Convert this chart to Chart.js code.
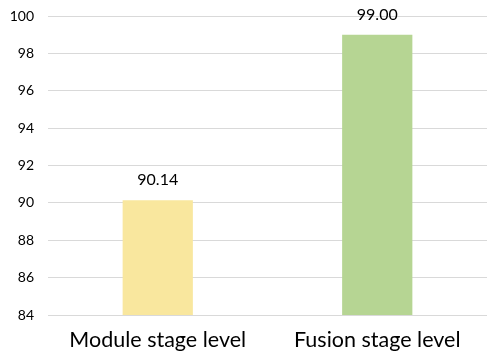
<!DOCTYPE html>
<html>
<head>
<meta charset="utf-8">
<script src="https://cdn.jsdelivr.net/npm/chart.js@4"></script>
<style>
  html, body { margin: 0; padding: 0; background: #fff; }
  #wrap { width: 487px; height: 356px; }
</style>
</head>
<body>
<div id="wrap"><canvas id="chart"></canvas></div>
<script>
var categories = ['Module stage level', 'Fusion stage level'];
var values = [90.14, 99.00];
var barColors = ['#F9E79E', '#B6D593'];
var yTicks = [84, 86, 88, 90, 92, 94, 96, 98, 100];

// draw the value above each bar
var valueLabels = {
    id: 'valueLabels',
    afterDatasetsDraw: function(chart) {
        var ctx = chart.ctx;
        var meta = chart.getDatasetMeta(0);
        ctx.save();
        ctx.font = '16px Lato, "Open Sans", sans-serif';
        ctx.fillStyle = '#000';
        ctx.textAlign = 'center';
        ctx.textBaseline = 'middle';
        for (var i = 0; i < meta.data.length; ++i) {
            var bar = meta.data[i];
            ctx.fillText(values[i].toFixed(2), bar.x, bar.y - 20);
        }
        ctx.restore();
    }
};

new Chart(document.getElementById('chart'), {
    type: 'bar',
    data: {
        labels: categories,
        datasets: [{
            data: values,
            backgroundColor: barColors,
            barPercentage: 0.32,
            categoryPercentage: 1.0
        }]
    },
    options: {
        responsive: true,
        maintainAspectRatio: false,
        animation: false,
        layout: { padding: { top: 16, right: 0, left: 0, bottom: 0 } },
        plugins: {
            legend: { display: false },
            tooltip: { enabled: false }
        },
        scales: {
            x: {
                afterFit: function(axis) { axis.height = 41; },
                grid: { display: false, drawTicks: false },
                border: { display: false },
                ticks: {
                    color: '#000',
                    padding: 12,
                    font: { family: 'Lato, "Open Sans", sans-serif', size: 21.5 }
                }
            },
            y: {
                min: 84,
                max: 100,
                afterBuildTicks: function(axis) {
                    axis.ticks = yTicks.map(function(v) { return {value: v}; });
                },
                afterFit: function(axis) {
                    axis.width = 48;
                    axis.paddingTop = 0;
                    axis.paddingBottom = 0;
                },
                grid: { color: '#D9D9D9', lineWidth: 1, drawTicks: false },
                border: { display: false },
                ticks: {
                    color: '#000',
                    padding: 14,
                    font: { family: 'Lato, "Open Sans", sans-serif', size: 14 }
                }
            }
        }
    },
    plugins: [valueLabels]
});
</script>
</body>
</html>
